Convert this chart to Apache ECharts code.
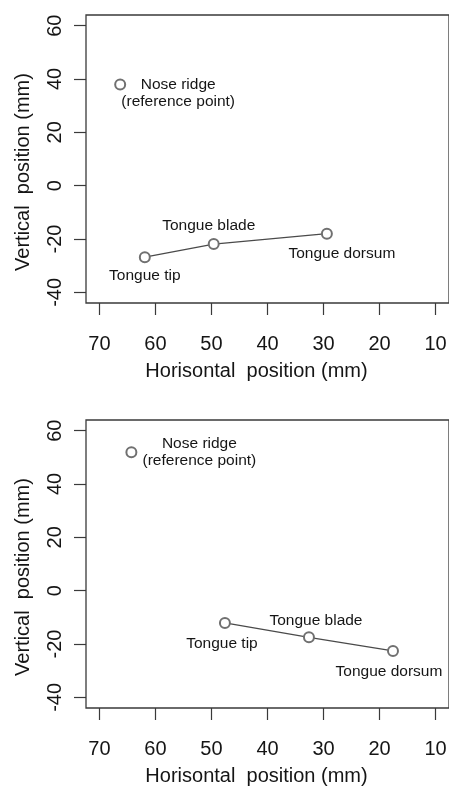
<!DOCTYPE html>
<html>
<head>
<meta charset="utf-8">
<script src="https://cdn.jsdelivr.net/npm/echarts@6/dist/echarts.min.js"></script>
<style>
html,body{margin:0;padding:0;background:#fff;}
#chart{width:449px;height:787px;}
</style>
</head>
<body>
<div id="chart"></div>
<script>
// ---- data ----
const xTickLabels = [70, 60, 50, 40, 30, 20, 10];
const yTickLabels = [-40, -20, 0, 20, 40, 60];
const tongueNames = ['Tongue tip', 'Tongue blade', 'Tongue dorsum'];
const noseName = 'Nose ridge\n(reference point)';

// top panel
const topNoseX = [66.3];
const topNoseY = [37.9];
const topTongueX = [61.9, 49.6, 29.4];
const topTongueY = [-26.8, -21.9, -18.0];

// bottom panel
const botNoseX = [64.3];
const botNoseY = [51.9];
const botTongueX = [47.6, 32.6, 17.6];
const botTongueY = [-12.1, -17.5, -22.6];

// ---- layout / style (not data) ----
const topTongueOffsets = [[0, 19], [-5, -18], [15, 20]];
const botTongueOffsets = [[-3, 21], [7, -17], [-4, 21]];
const topNoseOffset = [58, 9];
const botNoseOffset = [68, 0];

const FONT = 'Liberation Sans, Arial, Helvetica, sans-serif';
const TXT = '#151515';
const AXC = '#3a3a3a';
const PTC = '#707070';

function xAxis(gridIndex) {
  return {
    type: 'value', gridIndex: gridIndex, inverse: true,
    min: 7.6, max: 72.4,
    name: 'Horisontal  position (mm)', nameLocation: 'middle', nameGap: 58,
    nameTextStyle: {fontFamily: FONT, fontSize: 20, color: TXT, padding: [0, 22, 0, 0]},
    axisLine: {show: false, onZero: false},
    axisTick: {show: true, inside: false, length: 12, customValues: xTickLabels,
      lineStyle: {color: AXC, width: 1.2}},
    axisLabel: {show: true, customValues: xTickLabels, margin: 31,
      fontFamily: FONT, fontSize: 20, color: TXT},
    splitLine: {show: false}
  };
}
function yAxis(gridIndex) {
  return {
    type: 'value', gridIndex: gridIndex,
    min: -44, max: 64,
    name: 'Vertical  position (mm)', nameLocation: 'middle', nameGap: 53,
    nameTextStyle: {fontFamily: FONT, fontSize: 20, color: TXT, padding: [0, 26, 0, 0]},
    axisLine: {show: false, onZero: false},
    axisTick: {show: true, inside: false, length: 12, customValues: yTickLabels,
      lineStyle: {color: AXC, width: 1.2}},
    axisLabel: {show: true, rotate: 90, customValues: yTickLabels, margin: 21,
      fontFamily: FONT, fontSize: 20, color: TXT},
    splitLine: {show: false}
  };
}

function tongueSeries(idx, xs, ys, offsets) {
  return {
    type: 'line', xAxisIndex: idx, yAxisIndex: idx,
    data: xs.map((x, i) => ({
      value: [x, ys[i]], name: tongueNames[i],
      label: {offset: offsets[i]}
    })),
    symbol: 'emptyCircle', symbolSize: 10, showAllSymbol: true,
    itemStyle: {color: PTC, borderWidth: 1.3},
    lineStyle: {color: '#4a4a4a', width: 1.2},
    label: {show: true, position: 'inside', formatter: p => p.name,
      fontFamily: FONT, fontSize: 15.5, color: TXT, textBorderWidth: 0,
      align: 'center', verticalAlign: 'middle'},
    emphasis: {disabled: true}, silent: true, animation: false, z: 3
  };
}
function noseSeries(idx, xs, ys, offset) {
  return {
    type: 'scatter', xAxisIndex: idx, yAxisIndex: idx,
    data: xs.map((x, i) => ({value: [x, ys[i]], name: noseName})),
    symbol: 'emptyCircle', symbolSize: 10,
    itemStyle: {color: PTC, borderWidth: 1.3, opacity: 1},
    label: {show: true, position: 'inside', offset: offset, formatter: p => p.name,
      fontFamily: FONT, fontSize: 15.5, lineHeight: 17, color: TXT, textBorderWidth: 0,
      align: 'center', verticalAlign: 'middle'},
    emphasis: {disabled: true}, silent: true, animation: false, z: 3
  };
}

const chart = echarts.init(document.getElementById('chart'), null, {renderer: 'canvas'});
chart.setOption({
  backgroundColor: '#fff',
  animation: false,
  grid: [
    {left: 86, right: 0, top: 15, height: 288, show: true, borderColor: AXC, borderWidth: 1.3,
      backgroundColor: 'transparent', containLabel: false, outerBoundsMode: 'none'},
    {left: 86, right: 0, top: 420, height: 288, show: true, borderColor: AXC, borderWidth: 1.3,
      backgroundColor: 'transparent', containLabel: false, outerBoundsMode: 'none'}
  ],
  xAxis: [xAxis(0), xAxis(1)],
  yAxis: [yAxis(0), yAxis(1)],
  series: [
    tongueSeries(0, topTongueX, topTongueY, topTongueOffsets),
    noseSeries(0, topNoseX, topNoseY, topNoseOffset),
    tongueSeries(1, botTongueX, botTongueY, botTongueOffsets),
    noseSeries(1, botNoseX, botNoseY, botNoseOffset)
  ]
});
</script>
</body>
</html>
